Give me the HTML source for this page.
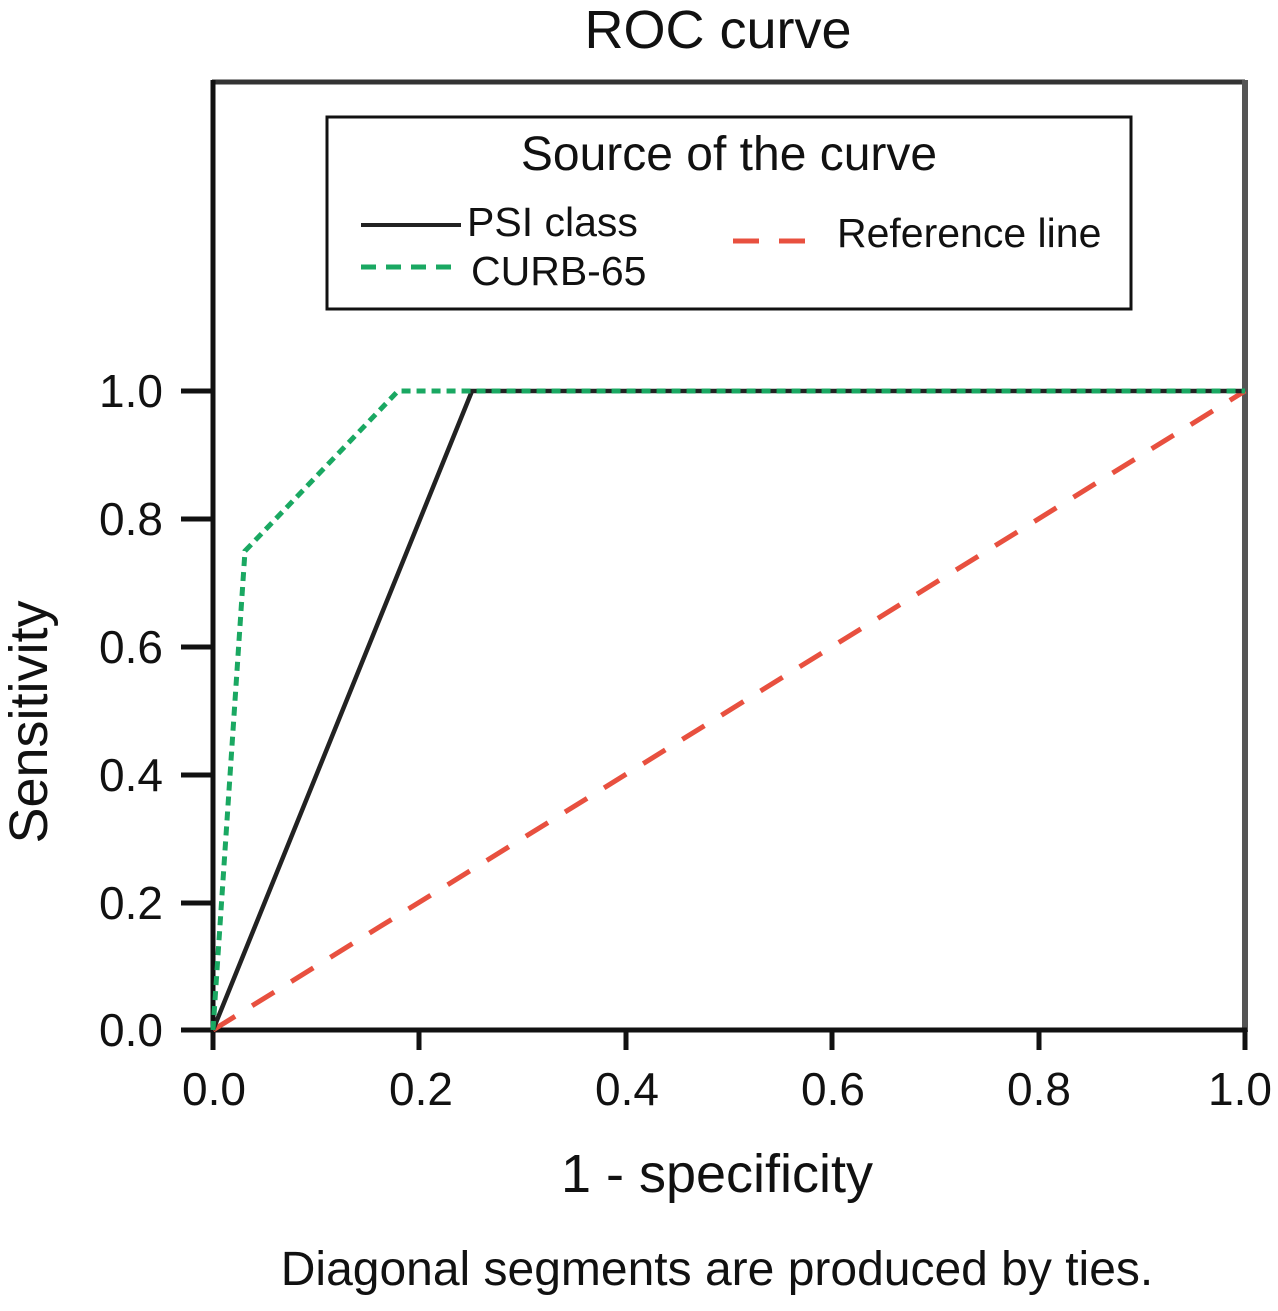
<!DOCTYPE html>
<html><head><style>body{margin:0;background:#fff}</style></head><body>
<svg width="1278" height="1306" xmlns="http://www.w3.org/2000/svg" font-family="Liberation Sans, sans-serif">
<rect width="1278" height="1306" fill="#fff"/>
<text x="718" y="48" font-size="54" text-anchor="middle" fill="#111">ROC curve</text>
<line x1="212" y1="82" x2="1245" y2="82" stroke="#333" stroke-width="5"/>
<line x1="1245" y1="80" x2="1245" y2="1032" stroke="#555" stroke-width="6"/>
<line x1="213" y1="80" x2="213" y2="1050" stroke="#111" stroke-width="5"/>
<line x1="181" y1="1030" x2="1247" y2="1030" stroke="#111" stroke-width="5"/>
<g stroke="#111" stroke-width="5">
<line x1="181" y1="391" x2="213" y2="391"/><line x1="181" y1="519" x2="213" y2="519"/>
<line x1="181" y1="647" x2="213" y2="647"/><line x1="181" y1="775" x2="213" y2="775"/>
<line x1="181" y1="903" x2="213" y2="903"/>
<line x1="419" y1="1030" x2="419" y2="1050"/><line x1="626" y1="1030" x2="626" y2="1050"/>
<line x1="832" y1="1030" x2="832" y2="1050"/><line x1="1039" y1="1030" x2="1039" y2="1050"/>
<line x1="1245" y1="1030" x2="1245" y2="1050"/>
</g>
<g font-size="46" fill="#111" text-anchor="end">
<text x="163" y="407">1.0</text><text x="163" y="535">0.8</text><text x="163" y="663">0.6</text>
<text x="163" y="791">0.4</text><text x="163" y="919">0.2</text><text x="163" y="1046">0.0</text>
</g>
<g font-size="46" fill="#111" text-anchor="middle">
<text x="214" y="1105">0.0</text><text x="421" y="1105">0.2</text><text x="627" y="1105">0.4</text>
<text x="833" y="1105">0.6</text><text x="1039" y="1105">0.8</text><text x="1240" y="1105">1.0</text>
</g>
<text x="717" y="1192" font-size="54" text-anchor="middle" fill="#111">1 - specificity</text>
<text transform="translate(47,722) rotate(-90)" font-size="54" text-anchor="middle" fill="#111">Sensitivity</text>
<text x="717" y="1285" font-size="48" text-anchor="middle" fill="#111">Diagonal segments are produced by ties.</text>
<line x1="213" y1="1030" x2="1245" y2="391" stroke="#e8503f" stroke-width="5" stroke-dasharray="26,20"/>
<polyline points="213,1030 472,391 1245,391" fill="none" stroke="#222" stroke-width="4.5"/>
<polyline points="213,1030 245,551 398,391 1245,391" fill="none" stroke="#1aa862" stroke-width="5" stroke-dasharray="9,6"/>
<rect x="327" y="117" width="804" height="192" fill="#fff" stroke="#111" stroke-width="3"/>
<text x="729" y="170" font-size="48" text-anchor="middle" fill="#111">Source of the curve</text>
<line x1="361" y1="225" x2="461" y2="225" stroke="#222" stroke-width="4"/>
<text x="467" y="236" font-size="41" fill="#111">PSI class</text>
<line x1="361" y1="267" x2="461" y2="267" stroke="#1aa862" stroke-width="5" stroke-dasharray="15,10"/>
<text x="471" y="285" font-size="41" fill="#111">CURB-65</text>
<line x1="733" y1="241" x2="823" y2="241" stroke="#e8503f" stroke-width="5" stroke-dasharray="26,20"/>
<text x="837" y="247" font-size="41" fill="#111">Reference line</text>
</svg>
</body></html>
